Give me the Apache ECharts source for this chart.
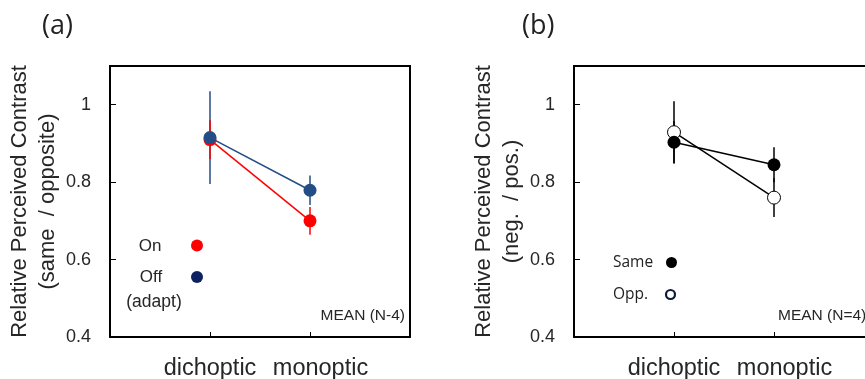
<!DOCTYPE html>
<html>
<head>
<meta charset="utf-8">
<script src="https://cdn.jsdelivr.net/npm/echarts@6/dist/echarts.min.js"></script>
<style>
  html, body { margin: 0; padding: 0; background: #fff; }
  #chart { width: 865px; height: 379px; }
</style>
</head>
<body>
<div id="chart"></div>
<script>
var categories = ['dichoptic', 'monoptic'];
var catX = [1, 2];

// panel (a)
var onMean = [0.91, 0.70];
var onErr = [0.05, 0.036];
var offMean = [0.915, 0.779];
var offErr = [0.12, 0.038];

// panel (b)
var sameMean = [0.903, 0.845];
var sameErr = [0.055, 0.045];
var oppMean = [0.929, 0.760];
var oppErr = [0.08, 0.05];

var yTicks = [0.4, 0.6, 0.8, 1];

var font = '"Liberation Sans", Arial, sans-serif';

function pts(means) {
    var res = [];
    for (var i = 0; i < means.length; i++) res.push([catX[i], means[i]]);
    return res;
}
function bars(means, errs) {
    var res = [];
    for (var i = 0; i < means.length; i++) res.push([catX[i], means[i] - errs[i], means[i] + errs[i]]);
    return res;
}
function errSeries(idx, means, errs, color) {
    return {
        type: 'custom',
        xAxisIndex: idx, yAxisIndex: idx,
        data: bars(means, errs),
        silent: true,
        renderItem: function (params, api) {
            var a = api.coord([api.value(0), api.value(1)]);
            var b = api.coord([api.value(0), api.value(2)]);
            return {
                type: 'line',
                shape: { x1: a[0], y1: a[1], x2: b[0], y2: b[1] },
                style: { stroke: color, lineWidth: 1.5 }
            };
        }
    };
}
function lineSeries(idx, means, color, fill, border) {
    return {
        type: 'line',
        xAxisIndex: idx, yAxisIndex: idx,
        data: pts(means),
        symbol: 'circle',
        symbolSize: 13,
        lineStyle: { color: color, width: 1.5 },
        itemStyle: { color: fill, borderColor: border || fill, borderWidth: border ? 1 : 0 }
    };
}
function xAxisOf(idx) {
    return {
        gridIndex: idx, type: 'value', min: 0, max: 3, interval: 1,
        axisLine: { lineStyle: { color: '#000', width: 2 } },
        axisTick: { inside: true, length: 5, lineStyle: { color: '#000', width: 1 } },
        splitLine: { show: false },
        axisLabel: {
            margin: 20,
            formatter: function (v) {
                var i = catX.indexOf(v);
                if (i < 0) return '';
                return i === 0 ? '{a|' + categories[i] + '}' : '{b|' + categories[i] + '}';
            },
            rich: {
                a: { fontFamily: font, fontSize: 23.5, color: '#262626' },
                b: { fontFamily: font, fontSize: 23.5, color: '#262626', padding: [0, 0, 0, 21] }
            }
        }
    };
}
function yAxisOf(idx, name) {
    return {
        gridIndex: idx, type: 'value', min: 0.4, max: 1.1, interval: 0.2,
        name: name, nameLocation: 'middle', nameGap: 46,
        nameTextStyle: { fontFamily: font, fontSize: 22, lineHeight: 28, color: '#262626' },
        axisLine: { lineStyle: { color: '#000', width: 2 } },
        axisTick: { inside: true, length: 6, lineStyle: { color: '#000', width: 1 } },
        splitLine: { show: false },
        axisLabel: {
            margin: 19, fontFamily: font, fontSize: 18, color: '#262626', showMaxLabel: false,
            formatter: function (v) {
                for (var i = 0; i < yTicks.length; i++) if (Math.abs(yTicks[i] - v) < 1e-6) return String(yTicks[i]);
                return '';
            }
        }
    };
}

var option = {
    animation: false,
    backgroundColor: '#fff',
    title: [
        { text: '(a)', left: 37, top: 8, textStyle: { fontFamily: '"Open Sans", sans-serif', fontSize: 27, fontWeight: 'normal', color: '#222' } },
        { text: '(b)', left: 517, top: 8, textStyle: { fontFamily: '"Open Sans", sans-serif', fontSize: 27, fontWeight: 'normal', color: '#222' } }
    ],
    grid: [
        { left: 110, top: 66, width: 300, height: 271, outerBoundsMode: 'none', show: true, borderColor: '#000', borderWidth: 2, backgroundColor: 'transparent' },
        { left: 574, top: 66, width: 300, height: 271, outerBoundsMode: 'none', show: true, borderColor: '#000', borderWidth: 2, backgroundColor: 'transparent' }
    ],
    xAxis: [xAxisOf(0), xAxisOf(1)],
    yAxis: [
        yAxisOf(0, 'Relative Perceived Contrast\n(same  / opposite)'),
        yAxisOf(1, 'Relative Perceived Contrast\n(neg.  / pos.)')
    ],
    series: [
        errSeries(0, offMean, offErr, '#234d85'),
        errSeries(0, onMean, onErr, '#ff0000'),
        lineSeries(0, onMean, '#ff0000', '#ff0000'),
        lineSeries(0, offMean, '#234d85', '#234d85'),
        errSeries(1, oppMean, oppErr, '#000'),
        errSeries(1, sameMean, sameErr, '#000'),
        lineSeries(1, oppMean, '#000', '#fff', '#000'),
        lineSeries(1, sameMean, '#000', '#000')
    ],
    graphic: [
        { type: 'text', x: 150, y: 246, style: { text: 'On', fontFamily: font, fontSize: 17, fill: '#262626', align: 'center', verticalAlign: 'middle' } },
        { type: 'text', x: 151, y: 277, style: { text: 'Off', fontFamily: font, fontSize: 17, fill: '#262626', align: 'center', verticalAlign: 'middle' } },
        { type: 'text', x: 154, y: 302, style: { text: '(adapt)', fontFamily: font, fontSize: 17.5, fill: '#262626', align: 'center', verticalAlign: 'middle' } },
        { type: 'circle', shape: { cx: 197, cy: 245.5, r: 6 }, style: { fill: '#ff0000' } },
        { type: 'circle', shape: { cx: 197, cy: 277, r: 6 }, style: { fill: '#0d2160' } },
        { type: 'text', x: 405, y: 316, style: { text: 'MEAN (N-4)', fontFamily: font, fontSize: 15.5, fill: '#262626', align: 'right', verticalAlign: 'middle' } },
        { type: 'text', x: 613, y: 263, style: { text: 'Same', fontFamily: '"Open Sans", sans-serif', fontSize: 15.5, fill: '#222', align: 'left', verticalAlign: 'middle' } },
        { type: 'text', x: 613, y: 295, style: { text: 'Opp.', fontFamily: '"Open Sans", sans-serif', fontSize: 15.5, fill: '#222', align: 'left', verticalAlign: 'middle' } },
        { type: 'circle', shape: { cx: 671.5, cy: 262.5, r: 5.5 }, style: { fill: '#000' } },
        { type: 'circle', shape: { cx: 670.5, cy: 294.5, r: 4.5 }, style: { fill: '#fff', stroke: '#0d1a3a', lineWidth: 2.2 } },
        { type: 'text', x: 778, y: 316, style: { text: 'MEAN (N=4)', fontFamily: font, fontSize: 15.5, fill: '#262626', align: 'left', verticalAlign: 'middle' } }
    ]
};

var chart = echarts.init(document.getElementById('chart'), null, { renderer: 'canvas' });
chart.setOption(option);
</script>
</body>
</html>
